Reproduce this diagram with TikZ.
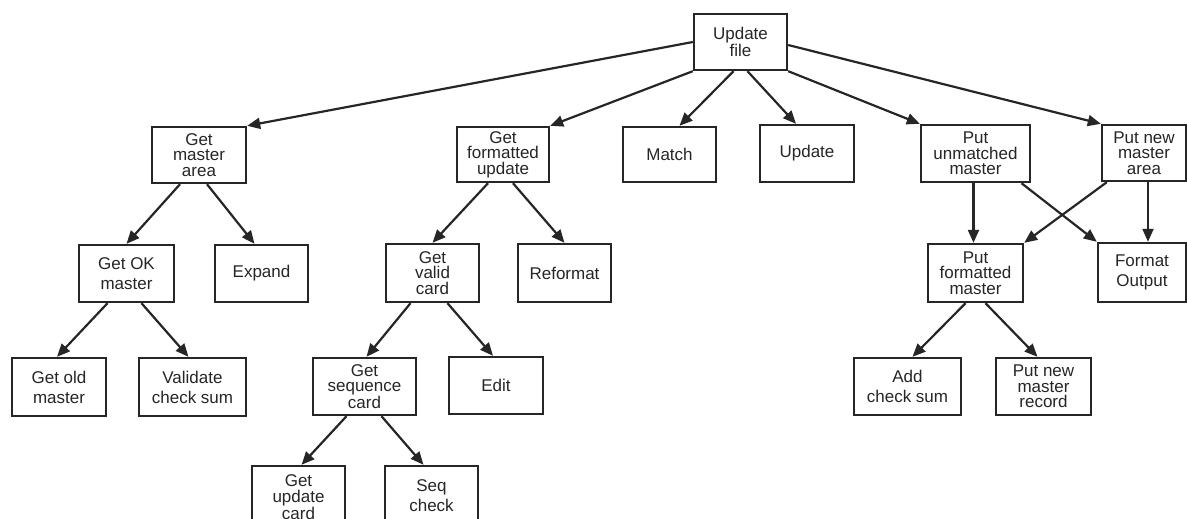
\documentclass[tikz,border=0pt]{standalone}
\usepackage{fontspec}
\setmainfont{Liberation Sans}
\usetikzlibrary{arrows.meta,calc}
\definecolor{ink}{HTML}{262626}
\begin{document}
\begin{tikzpicture}[x=1pt,y=-1pt,
  box/.style={draw=ink, line width=2.4pt, fill=white, inner sep=0pt,
    align=center, text=ink, font=\fontsize{17}{15.5}\selectfont},
  two/.style={font=\fontsize{17}{20}\selectfont},
  link/.style={draw=ink, line width=2.2pt, -{Triangle[length=13pt,width=11pt]}}]
\useasboundingbox (0,0) rectangle (1187,519);
\fill[white] (0,0) rectangle (1187,519);
\clip (0,0) rectangle (1187,519);

% top level
\node[box, minimum width=93pt, minimum height=56pt] (uf) at (740.5,42) {Update\\file};

% second level
\node[box, minimum width=94pt, minimum height=56pt] (gma) at (199,155) {Get\\master\\area};
\node[box, minimum width=92pt, minimum height=55pt] (gfu) at (503,154.5) {Get\\formatted\\update};
\node[box, minimum width=93pt, minimum height=55pt] (match) at (669.5,154.5) {Match};
\node[box, minimum width=94pt, minimum height=57pt] (upd) at (807,153.5) {Update};
\node[box, minimum width=109pt, minimum height=57pt] (pum) at (975.5,153.5) {Put\\unmatched\\master};
\node[box, minimum width=84pt, minimum height=56pt] (pnma) at (1144,153) {Put new\\master\\area};

% third level
\node[box, two, minimum width=95pt, minimum height=57pt] (gok) at (126.5,273.5) {Get OK\\master};
\node[box, minimum width=93pt, minimum height=57pt] (exp) at (261.5,273.5) {Expand};
\node[box, minimum width=93pt, minimum height=58pt] (gvc) at (432.5,273) {Get\\valid\\card};
\node[box, minimum width=93pt, minimum height=58pt] (ref) at (564.5,273) {Reformat};
\node[box, minimum width=95pt, minimum height=58pt] (pfm) at (975.5,273) {Put\\formatted\\master};
\node[box, two, minimum width=88pt, minimum height=59pt] (fo) at (1142,272.5) {Format\\Output};

% fourth level
\node[box, two, minimum width=94pt, minimum height=58pt] (gom) at (59,387) {Get old\\master};
\node[box, two, minimum width=107pt, minimum height=58pt] (vcs) at (192.5,387) {Validate\\check sum};
\node[box, minimum width=103pt, minimum height=57pt] (gsc) at (364.5,386.5) {Get\\sequence\\card};
\node[box, minimum width=94pt, minimum height=57pt] (edit) at (496,385.5) {Edit};
\node[box, two, minimum width=107pt, minimum height=57pt] (acs) at (907.5,386.5) {Add\\check sum};
\node[box, minimum width=95pt, minimum height=57pt] (pnmr) at (1043.5,386.5) {Put new\\master\\record};

% fifth level
\node[box, minimum width=93pt, minimum height=62pt] (guc) at (298.5,497) {Get\\update\\card};
\node[box, two, minimum width=93pt, minimum height=60pt] (seq) at (431.5,496) {Seq\\check};

% connectors from the root
\draw[link] (uf.west) -- (gma.north east);
\draw[link] (uf.south west) -- (gfu.north east);
\draw[link] ([xshift=-7pt]uf.south) -- ([xshift=10pt]match.north);
\draw[link] ([xshift=7pt]uf.south) -- ([xshift=-11pt]upd.north);
\draw[link] (uf.south east) -- (pum.north west);
\draw[link] ([yshift=-3pt]uf.east) -- (pnma.north west);

% left branch
\draw[link] ([xshift=-19pt]gma.south) -- (gok.north);
\draw[link] ([xshift=8pt]gma.south) -- ([xshift=-7pt]exp.north);
\draw[link] ([xshift=-19pt]gok.south) -- ([xshift=-2pt]gom.north);
\draw[link] ([xshift=15pt]gok.south) -- ([xshift=-4pt]vcs.north);

% middle branch
\draw[link] ([xshift=-15pt]gfu.south) -- (gvc.north);
\draw[link] ([xshift=10pt]gfu.south) -- (ref.north);
\draw[link] ([xshift=-22pt]gvc.south) -- ([xshift=2pt]gsc.north);
\draw[link] ([xshift=15pt]gvc.south) -- ([xshift=-3pt]edit.north);
\draw[link] ([xshift=-18pt]gsc.south) -- ([xshift=3pt]guc.north);
\draw[link] ([xshift=17pt]gsc.south) -- ([xshift=-8pt]seq.north);

% right branch
\draw[link] ([xshift=-2pt]pum.south) -- ([xshift=-2pt]pfm.north);
\draw[link] ([xshift=46pt]pum.south) -- (fo.north west);
\draw[link] ([xshift=6pt]pnma.south west) -- (pfm.north east);
\draw[link] ([xshift=4pt]pnma.south) -- ([xshift=6pt]fo.north);
\draw[link] ([xshift=-10pt]pfm.south) -- ([xshift=5pt]acs.north);
\draw[link] ([xshift=10pt]pfm.south) -- ([xshift=-6pt]pnmr.north);
\end{tikzpicture}
\end{document}
